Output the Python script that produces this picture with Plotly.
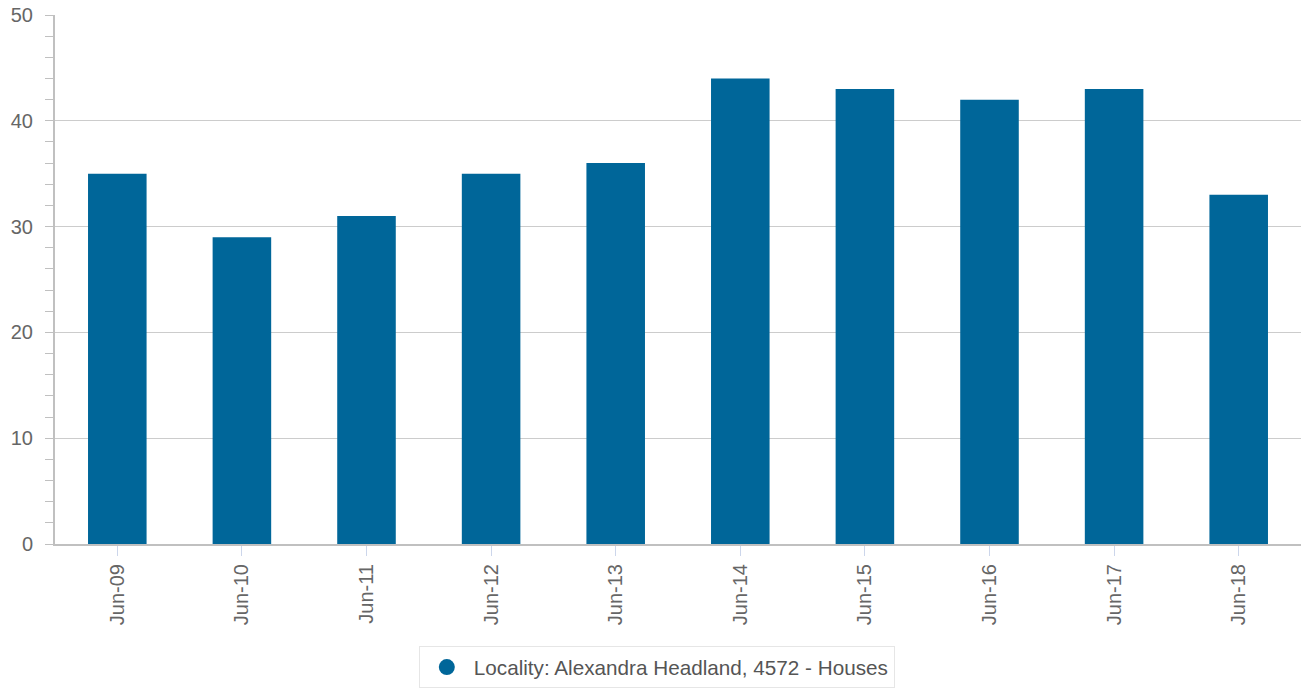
import plotly.graph_objects as go

categories = ["Jun-09", "Jun-10", "Jun-11", "Jun-12", "Jun-13", "Jun-14", "Jun-15", "Jun-16", "Jun-17", "Jun-18"]
values = [35, 29, 31, 35, 36, 44, 43, 42, 43, 33]
series_name = "Locality: Alexandra Headland, 4572 - Houses"
y_ticks = [0, 10, 20, 30, 40, 50]

color = "#006699"
font_family = "Liberation Sans, Arial, sans-serif"

fig = go.Figure()
fig.add_trace(go.Bar(
    x=categories, y=values, marker=dict(color=color, line=dict(width=0)),
    showlegend=False, name=series_name,
))
fig.add_trace(go.Scatter(
    x=[None], y=[None], mode="markers", name=series_name,
    marker=dict(symbol="circle", size=22, color=color), showlegend=True,
))

fig.update_layout(
    width=1302, height=698,
    margin=dict(l=55, r=1, t=15, b=154, autoexpand=False),
    paper_bgcolor="white", plot_bgcolor="white",
    bargap=0.53,
    font=dict(family=font_family, size=20, color="#666666"),
    legend=dict(
        orientation="h", x=0.483, xanchor="center", y=-0.193, yanchor="top",
        bordercolor="#e6e6e6", borderwidth=1, bgcolor="white",
        font=dict(size=20.7, color="#555555"),
        itemsizing="trace", itemwidth=44,
    ),
    xaxis=dict(
        type="category", tickangle=-90, automargin=False,
        showline=True, linecolor="#c0c0c0", linewidth=2,
        ticks="outside", ticklen=10, tickcolor="#ccd6eb", tickwidth=1,
        showgrid=False, tickfont=dict(size=20, color="#666666"),
        range=[-0.5, len(categories) - 0.5],
    ),
    yaxis=dict(
        range=[0, 50], tickvals=y_ticks, automargin=False,
        showline=True, linecolor="#c0c0c0", linewidth=2,
        showgrid=True, gridcolor="#cccccc", gridwidth=1,
        ticks="outside", ticklen=8, tickcolor="#c0c0c0", tickwidth=1,
        ticklabelstandoff=8, ticklabeloverflow="allow",
        minor=dict(dtick=2, ticks="outside", ticklen=8, tickcolor="#c0c0c0", showgrid=False),
        zeroline=False,
        tickfont=dict(size=20, color="#666666"),
    ),
)

fig.write_html(
    "out.html",
    config={"displayModeBar": False},
    post_script="document.body.style.margin='0';document.body.style.overflow='hidden';",
)
